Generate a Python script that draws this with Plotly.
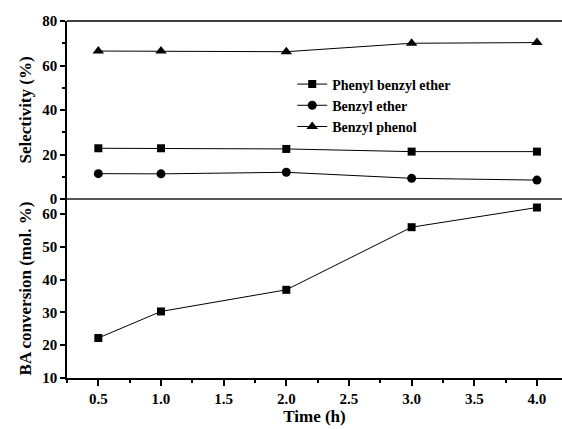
import plotly.graph_objects as go
from plotly.subplots import make_subplots

time_h = [0.5, 1.0, 2.0, 3.0, 4.0]
phenyl_benzyl_ether = [22.8, 22.8, 22.5, 21.3, 21.3]
benzyl_ether = [11.4, 11.3, 12.0, 9.3, 8.5]
benzyl_phenol = [66.5, 66.5, 66.2, 70.0, 70.3]
ba_conversion = [22.2, 30.3, 36.9, 56.0, 62.0]

FONT = "'Liberation Serif', 'Times New Roman', Times, serif"
W, H = 562, 429
ML, MR, MT, MB = 67, 0, 21, 51
split = 179 / 357.0

fig = make_subplots(rows=2, cols=1, shared_xaxes=True, vertical_spacing=0)

line = dict(color="black", width=1)
fig.add_trace(go.Scatter(x=time_h, y=phenyl_benzyl_ether, name="<b>Phenyl benzyl ether</b>",
                         mode="lines+markers", line=line,
                         marker=dict(symbol="square", size=8, color="black")), row=1, col=1)
fig.add_trace(go.Scatter(x=time_h, y=benzyl_ether, name="<b>Benzyl ether</b>",
                         mode="lines+markers", line=line,
                         marker=dict(symbol="circle", size=9, color="black")), row=1, col=1)
fig.add_trace(go.Scatter(x=time_h, y=benzyl_phenol, name="<b>Benzyl phenol</b>",
                         mode="lines+markers", line=line,
                         marker=dict(symbol="triangle-up", size=10, color="black")), row=1, col=1)
fig.add_trace(go.Scatter(x=time_h, y=ba_conversion, name="BA conversion",
                         mode="lines+markers", line=line, showlegend=False,
                         marker=dict(symbol="square", size=8, color="black")), row=2, col=1)

tickfont = dict(family=FONT, size=15, color="black")
titlefont = dict(family=FONT, size=17, color="black")

fig.update_layout(
    width=W, height=H,
    margin=dict(l=ML, r=MR, t=MT, b=MB),
    paper_bgcolor="white", plot_bgcolor="white",
    font=dict(family=FONT, color="black"),
    showlegend=True,
    legend=dict(x=0.455, y=0.867, xanchor="left", yanchor="top",
                bgcolor="rgba(0,0,0,0)", borderwidth=0,
                font=dict(family=FONT, size=14, color="black"),
                tracegroupgap=0, itemwidth=30),
    xaxis=dict(domain=[0, 1], showline=False, showticklabels=False, ticks="",
               range=[0.25, 4.2], showgrid=False, zeroline=False),
    yaxis=dict(domain=[split, 1], range=[0, 80], dtick=20, tick0=0,
               showline=True, linecolor="black", linewidth=1.5,
               ticks="outside", ticklen=5, tickwidth=1.5, tickcolor="black",
               minor=dict(dtick=10, ticks="outside", ticklen=3, tickwidth=1.5, tickcolor="black"),
               showgrid=False, zeroline=False, tickfont=tickfont,
               title=dict(text="<b>Selectivity (%)</b>", font=titlefont, standoff=6)),
    xaxis2=dict(domain=[0, 1], range=[0.25, 4.2], dtick=0.5, tick0=0.5,
                showline=True, linecolor="black", linewidth=1.5,
                ticks="outside", ticklen=6, tickwidth=1.5, tickcolor="black",
                minor=dict(dtick=0.25, ticks="outside", ticklen=3, tickwidth=1.5, tickcolor="black"),
                tickformat=".1f", showgrid=False, zeroline=False, tickfont=tickfont,
                title=dict(text="<b>Time (h)</b>", font=titlefont, standoff=4)),
    yaxis2=dict(domain=[0, split], range=[10, 64.6], dtick=10, tick0=10,
                showline=True, linecolor="black", linewidth=1.5,
                ticks="outside", ticklen=5, tickwidth=1.5, tickcolor="black",
                showgrid=False, zeroline=False, tickfont=tickfont,
                title=dict(text="<b>BA conversion (mol. %)</b>", font=titlefont, standoff=6)),
)

fig.update_xaxes(tickprefix="<b>", ticksuffix="</b>")
fig.update_yaxes(tickprefix="<b>", ticksuffix="</b>")

# frame: top border and gray divider between panels
fig.add_shape(type="line", xref="paper", yref="paper", x0=0, x1=1, y0=1, y1=1,
              line=dict(color="black", width=1.5))
fig.add_shape(type="line", xref="paper", yref="paper", x0=0, x1=1, y0=split, y1=split,
              line=dict(color="#555555", width=2))

fig.write_html("out.html")
